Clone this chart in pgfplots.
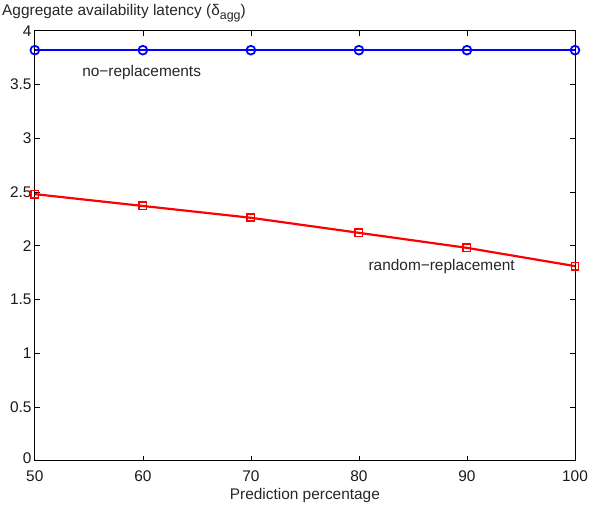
\documentclass[border=0pt]{standalone}
\usepackage{pgfplots}
\pgfplotsset{compat=1.18}
\usepackage{fontspec}
\setmainfont{Liberation Sans}
\newcommand{\fs}{\fontsize{15.5pt}{18pt}\selectfont}
\begin{document}
\fs
\begin{tikzpicture}
\begin{axis}[
  scale only axis,
  width=543pt, height=432pt,
  xmin=50, xmax=100, ymin=0, ymax=4,
  xtick={50,60,70,80,90,100},
  ytick={0,0.5,1,1.5,2,2.5,3,3.5,4},
  yticklabels={\raisebox{5pt}{0},0.5,1,1.5,2,2.5,3,3.5,4},
  tick align=inside,
  tick pos=both,
  major tick length=5pt,
  axis line style={line width=0.9pt},
  tick style={line width=0.7pt, black},
  /pgf/number format/assume math mode=true,
  tick label style={font=\fs, text=black!90},
  xticklabel style={yshift=-5pt},
  yticklabel style={xshift=2pt},
  xlabel={Prediction percentage},
  xlabel style={font=\fs, yshift=4pt, text=black!85},
  clip=false,
]
\addplot[blue, line width=2.2pt, mark=o, mark size=4.4pt, mark options={line width=1.8pt}]
coordinates {(50,3.82) (60,3.82) (70,3.82) (80,3.82) (90,3.82) (100,3.82)};
\addplot[red, line width=2.2pt, mark=square, mark size=3.6pt, mark options={line width=1.8pt}]
coordinates {(50,2.48) (60,2.37) (70,2.26) (80,2.12) (90,1.98) (100,1.81)};
\node[anchor=west, text=black!85, font=\fs] at (axis cs:53.9,3.61) {no−replacements};
\node[anchor=west, text=black!85, font=\fs] at (axis cs:80.4,1.81) {random−replacement};
\node[anchor=south west, inner sep=0pt, text=black!85, font=\fs] at ([xshift=-33pt,yshift=9pt]rel axis cs:0,1) {Aggregate availability latency (δ\raisebox{-0.45ex}{\fontsize{12.5pt}{14pt}\selectfont agg})};
\useasboundingbox ([xshift=-35pt,yshift=31pt]rel axis cs:0,1) rectangle ([xshift=15pt,yshift=-44pt]rel axis cs:1,0);
\end{axis}
\end{tikzpicture}
\end{document}
